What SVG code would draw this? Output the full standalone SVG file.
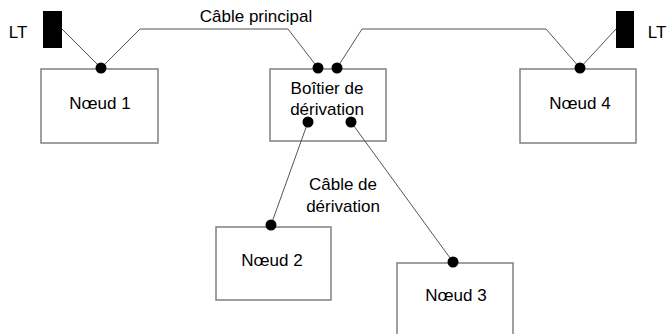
<svg xmlns="http://www.w3.org/2000/svg" width="669" height="334" viewBox="0 0 669 334">
<style>
.box{fill:#fff;stroke:#808080;stroke-width:1.5}
.cable{fill:none;stroke:#555;stroke-width:1}
.dot{fill:#000}
.lt{fill:#000}
text{font-family:"Liberation Sans",Arial,sans-serif;font-size:17px;fill:#000;text-anchor:middle}
</style>
<rect width="669" height="334" fill="#fff"/>
<g id="lt-left"><rect class="lt" x="43" y="11" width="19" height="37"/><text x="18" y="38">LT</text></g>
<g id="lt-right"><rect class="lt" x="616" y="11" width="18" height="37"/><text x="657" y="38">LT</text></g>
<g id="cable-principal-label"><text x="256" y="22">Câble  principal</text></g>
<g id="cable-derivation-label"><text x="343" y="190">Câble de</text><text x="343" y="212">dérivation</text></g>
<g id="noeud1"><rect class="box" x="41" y="69" width="117" height="74"/><text x="100" y="109">Nœud 1</text></g>
<g id="boitier"><rect class="box" x="270" y="69" width="116" height="72"/><text x="327" y="94">Boîtier de</text><text x="327" y="115">dérivation</text></g>
<g id="noeud4"><rect class="box" x="520" y="69" width="116" height="74"/><text x="580" y="109">Nœud 4</text></g>
<g id="noeud2"><rect class="box" x="216" y="227" width="115" height="73"/><text x="272" y="266">Nœud 2</text></g>
<g id="noeud3"><rect class="box" x="397" y="263" width="116" height="80"/><text x="456" y="301">Nœud 3</text></g>
<g id="connectors">
<polyline class="cable" points="62,29 101,68"/>
<polyline class="cable" points="101,68 140,29 288,29 318,68"/>
<polyline class="cable" points="337,68 362,29 546,29 580,68"/>
<polyline class="cable" points="580,68 616,29"/>
<polyline class="cable" points="308,122 271,225"/>
<polyline class="cable" points="351,122 453,262"/>
</g>
<g id="dots">
<circle class="dot" cx="101" cy="68" r="5.5"/>
<circle class="dot" cx="318" cy="68" r="5.5"/>
<circle class="dot" cx="337" cy="68" r="5.5"/>
<circle class="dot" cx="580" cy="68" r="5.5"/>
<circle class="dot" cx="308" cy="122" r="5.5"/>
<circle class="dot" cx="351" cy="122" r="5.5"/>
<circle class="dot" cx="271" cy="225" r="5.5"/>
<circle class="dot" cx="453" cy="262" r="5.5"/>
</g>
</svg>
